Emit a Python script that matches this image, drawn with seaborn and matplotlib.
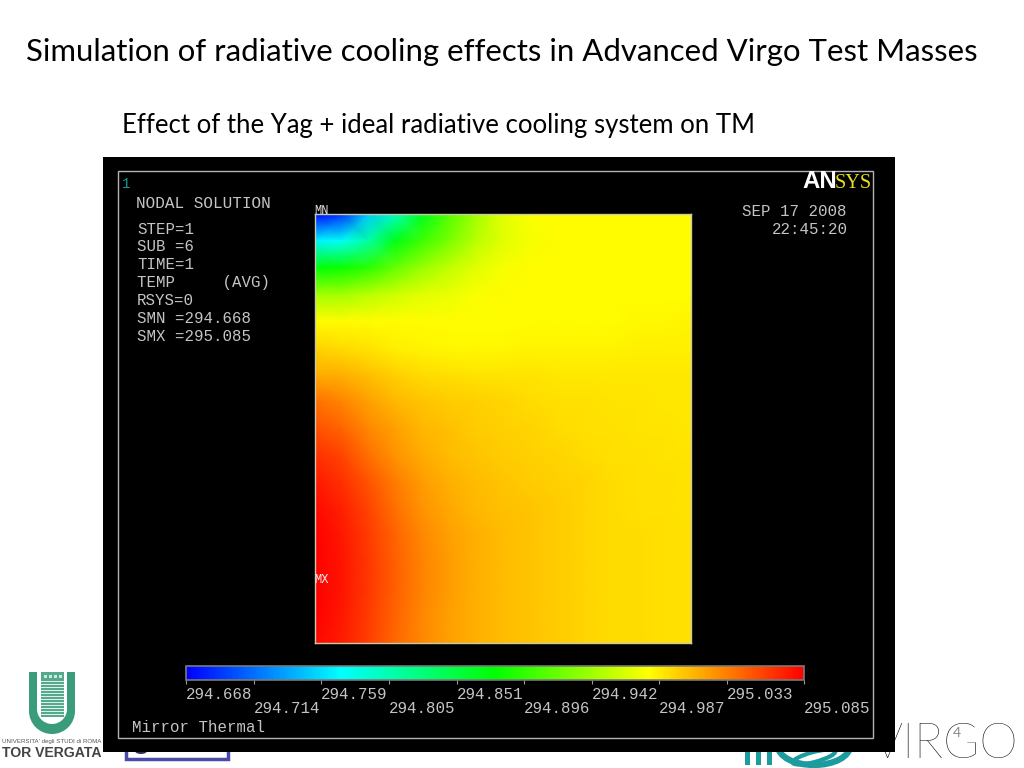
# ANSYS thermal map of the Virgo test mass, slide version

import numpy as np
import pandas as pd
import matplotlib
matplotlib.use("Agg")
import matplotlib.pyplot as plt
from matplotlib.colors import LinearSegmentedColormap
from matplotlib.patches import Rectangle, Ellipse
import seaborn as sns

W, H = 1024, 768
SMN, SMX = 294.668, 295.085

# ── Values, as fraction of the SMN..SMX scale ──
# one row = one horizontal cut, top of the mirror section first
row_00 = [.00, .05, .20, .31, .47, .58, .66, .72, .745, .75, .75, .75, .75, .75, .75]
row_01 = [.24, .26, .34, .48, .56, .62, .68, .72, .74, .75, .75, .75, .75, .75, .75]
row_02 = [.49, .51, .54, .60, .65, .69, .72, .74, .75, .75, .75, .75, .75, .75, .75]
row_03 = [.66, .66, .68, .70, .72, .73, .745, .75, .75, .75, .75, .75, .75, .75, .75]
row_04 = [.75, .75, .75, .75, .75, .75, .75, .75, .75, .75, .75, .75, .755, .755, .76]
row_05 = [.79, .785, .775, .765, .76, .755, .755, .755, .76, .76, .76, .76, .765, .765, .765]
row_06 = [.83, .825, .81, .795, .785, .78, .775, .775, .775, .77, .77, .77, .77, .77, .77]
row_07 = [.89, .87, .84, .82, .805, .80, .795, .79, .785, .78, .78, .775, .775, .77, .77]
row_08 = [.92, .90, .865, .84, .82, .81, .80, .795, .79, .785, .78, .78, .775, .775, .77]
row_09 = [.95, .93, .89, .855, .83, .815, .805, .80, .795, .79, .785, .78, .78, .775, .775]
row_10 = [.975, .95, .915, .875, .845, .825, .815, .805, .80, .795, .79, .785, .78, .78, .775]
row_11 = [.99, .965, .93, .89, .855, .835, .82, .81, .805, .80, .79, .785, .78, .78, .775]
row_12 = [1.0, .975, .94, .90, .865, .84, .825, .815, .805, .80, .79, .785, .785, .78, .78]
row_13 = [1.0, .98, .945, .905, .87, .845, .825, .815, .805, .80, .79, .785, .785, .78, .78]
row_14 = [1.0, .98, .945, .905, .87, .845, .825, .815, .805, .80, .79, .785, .785, .78, .78]
row_15 = [1.0, .975, .94, .90, .865, .84, .825, .815, .805, .80, .79, .785, .785, .78, .78]
row_16 = [.99, .97, .935, .895, .865, .84, .825, .815, .805, .80, .79, .785, .785, .78, .78]

scale_ticks = [294.668, 294.714, 294.759, 294.805, 294.851,
               294.896, 294.942, 294.987, 295.033, 295.085]
info_lines = ["STEP=1", "SUB =6", "TIME=1", "TEMP     (AVG)",
              "RSYS=0", "SMN =294.668", "SMX =295.085"]

frac = pd.DataFrame([row_00, row_01, row_02, row_03, row_04, row_05, row_06, row_07, row_08,
                     row_09, row_10, row_11, row_12, row_13, row_14, row_15, row_16])
temp = SMN + frac * (SMX - SMN)

sns.set_theme(style="white")
plt.rcParams["font.family"] = ["Lato", "DejaVu Sans"]

ansys = LinearSegmentedColormap.from_list(
    "ansys", ["#0000ff", "#00ffff", "#00ff00", "#ffff00", "#ff0000"], N=256)

fig = plt.figure(figsize=(W / 100, H / 100), dpi=100, facecolor="white")


def px_axes(x0, y0, x1, y1):
    return fig.add_axes([x0 / W, 1 - y1 / H, (x1 - x0) / W, (y1 - y0) / H])


def label(x, y, s, size, color="#c4c4c4", family="Liberation Mono", **kw):
    kw.setdefault("va", "center")
    kw.setdefault("ha", "left")
    return fig.text(x / W, 1 - y / H, s, fontsize=size * 0.72, color=color,
                    family=family, **kw)


# ── Slide background: logos sit under the black panel ───────
bg = fig.add_axes([0, 0, 1, 1])
bg.set_xlim(0, W)
bg.set_ylim(H, 0)
bg.axis("off")

GREEN = "#3b9c7b"
bg.add_patch(Rectangle((29, 672), 46, 39, color=GREEN, lw=0))
bg.add_patch(Ellipse((52, 711), 46, 46, color=GREEN, lw=0))
bg.add_patch(Rectangle((37, 672), 30, 37, color="white", lw=0))
bg.add_patch(Ellipse((52, 709), 30, 30, color="white", lw=0))
bg.add_patch(Rectangle((41, 672), 23, 45, color="#55aa8e", lw=0))
for yy in range(681, 717, 3):
    bg.add_patch(Rectangle((41, yy), 23, 1.2, color="#dff0ea", lw=0))
for xx in range(44, 62, 5):
    bg.add_patch(Rectangle((xx, 675), 2.5, 3, color="#cfe8de", lw=0))

# blue logo box peeking out under the panel
bg.add_patch(Rectangle((126, 740), 102, 19, fc="white", ec="#4a4aa8", lw=2.5))
bg.add_patch(Ellipse((141, 751), 12, 6, color="#333355", lw=0))

# teal swoosh, cut by the panel
TEAL = "#1c9c9e"
for xx in (745, 756, 767):
    bg.add_patch(Rectangle((xx, 745), 5, 20, color=TEAL, lw=0))
bg.add_patch(Ellipse((814, 746), 72, 38, fc="none", ec=TEAL, lw=4.5))
bg.add_patch(Ellipse((814, 757), 44, 10, angle=-15, fc="none", ec=TEAL, lw=3))

# ── Black ANSYS panel ───────────────────────────────────────
bg.add_patch(Rectangle((103, 157), 792, 595, color="black", lw=0, zorder=3))
bg.add_patch(Rectangle((117.5, 171), 755.5, 567, fc="none", ec="#b4b4b4", lw=1, zorder=4))

# ── Temperature field and legend bar ────────────────────────
ax = px_axes(315, 214, 691, 643)
cax = px_axes(186, 666, 804, 680)
sns.heatmap(temp, ax=ax, cbar_ax=cax, cmap=ansys, vmin=SMN, vmax=SMX, shading="gouraud",
            xticklabels=False, yticklabels=False,
            cbar_kws={"orientation": "horizontal", "ticks": scale_ticks})
ax.set_xlim(0, temp.shape[1] - 1)
ax.set_ylim(temp.shape[0] - 1, 0)
ax.set_xlabel("")
ax.set_ylabel("")
for sp in ax.spines.values():
    sp.set_visible(True)
    sp.set_color("#c9c9b0")
    sp.set_linewidth(1)

cbar = ax.collections[0].colorbar
cbar.outline.set_linewidth(1.2)
cbar.outline.set_edgecolor("#7a7a7a")
# staggered legend labels, two rows like the ANSYS window
tick_text = [f"{v:.3f}\n" if i % 2 == 0 else f"\n{v:.3f}" for i, v in enumerate(scale_ticks)]
cbar.ax.set_xticks(scale_ticks, tick_text, family="Liberation Mono", fontsize=15.8 * 0.72,
                   color="#c4c4c4", ha="left", linespacing=0.92)
cbar.ax.tick_params(axis="x", which="both", bottom=True, length=3, width=0.8, color="#9a9a9a", pad=1.7)
cbar.ax.minorticks_off()

# ── Panel text ──────────────────────────────────────────────
label(122, 184, "1", 14, color="#159a9a")
label(136, 203, "NODAL SOLUTION", 16)
for i, line in enumerate(info_lines):
    label(137, 229 + i * 17.9, line, 15.7)
label(846, 211, "SEP 17 2008", 15.7, ha="right")
label(848, 229, "22:45:20", 15.7, ha="right")
label(314, 211, "MN", 12, color="#e0e0e0")
label(314, 580, "MX", 12, color="#f0f0f0")
label(132, 728, "Mirror Thermal", 15.8)

label(802, 188, "AN", 24, color="white", family="Liberation Sans", fontweight="bold", va="baseline")
label(835, 188, "SYS", 20.3, color="#e8e020", family="Liberation Serif", va="baseline")

# ── Slide text ──────────────────────────────────────────────
label(26, 52, "Simulation of radiative cooling effects in Advanced Virgo Test Masses", 31.1,
      color="black", family="Lato")
label(122, 126, "Effect of the Yag + ideal radiative cooling system on TM", 25.7,
      color="black", family="Lato")

label(2, 742, "UNIVERSITA' degli STUDI di ROMA", 6.2, color="#555555",
      family="Liberation Sans")
label(2, 753, "TOR VERGATA", 14, color="#444444",
      family="Liberation Sans", fontweight="bold")

bg.text(872, 758, "VIRGO", fontsize=49 * 0.72, color="black", family="Lato",
        fontweight="light", va="baseline", ha="left", zorder=1)
label(953, 733, "4", 14, color="#8a8a8a", family="Lato")

fig.savefig("out.png", dpi=100)
